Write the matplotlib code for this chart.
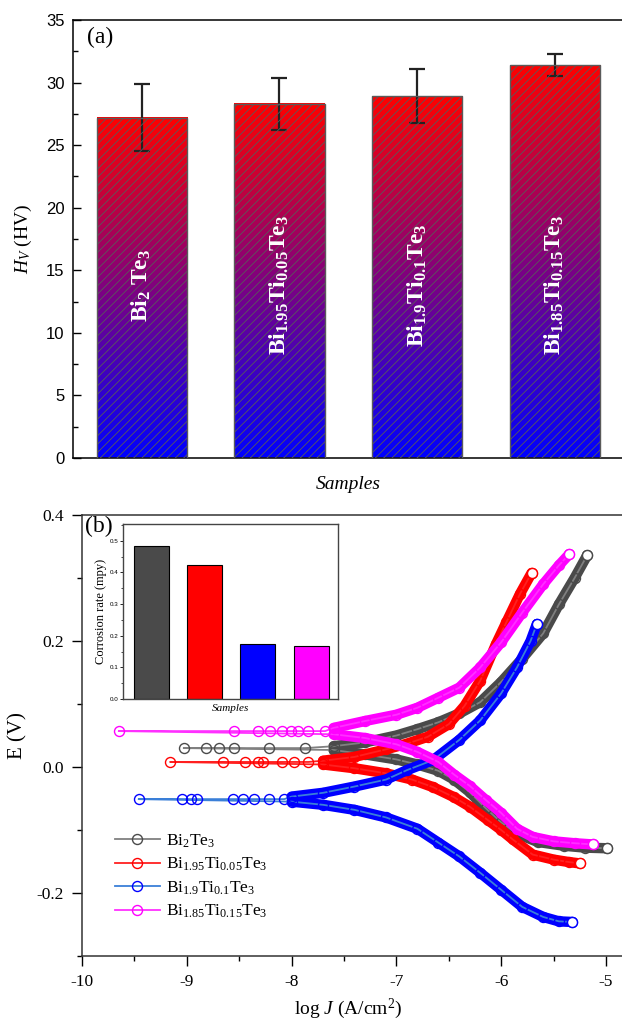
import numpy as np
import matplotlib.pyplot as plt
from matplotlib.colors import LinearSegmentedColormap
from matplotlib.ticker import MultipleLocator, FormatStrFormatter

plt.rcParams.update({
    "font.family": "serif",
    "font.serif": ["Liberation Serif", "DejaVu Serif"],
    "font.sans-serif": ["Liberation Sans", "DejaVu Sans"],
    "mathtext.fontset": "custom",
    "mathtext.rm": "Liberation Serif",
    "mathtext.it": "Liberation Serif:italic",
    "mathtext.bf": "Liberation Serif:bold",
    "axes.unicode_minus": False,
    "hatch.linewidth": 0.6,
})

# ---- panel (a): Vickers hardness ----
bar_labels = [r"$\mathbf{Bi_{2}\ Te_{3}}$",
              r"$\mathbf{Bi_{1.95}Ti_{0.05}Te_{3}}$",
              r"$\mathbf{Bi_{1.9}Ti_{0.1}Te_{3}}$",
              r"$\mathbf{Bi_{1.85}Ti_{0.15}Te_{3}}$"]
hv = [27.2, 28.3, 28.9, 31.4]
hv_err = [2.7, 2.1, 2.15, 0.85]

# ---- inset: corrosion rate (mpy) ----
corr_rate = [0.484, 0.423, 0.174, 0.169]

# ---- panel (b): Tafel curves, (log J, E) ----
legend_labels = [r"Bi$_{2}$Te$_{3}$",
                 r"Bi$_{1.95}$Ti$_{0.05}$Te$_{3}$",
                 r"Bi$_{1.9}$Ti$_{0.1}$Te$_{3}$",
                 r"Bi$_{1.85}$Ti$_{0.15}$Te$_{3}$"]

bt_cath = [(-4.99, -0.129), (-5.2, -0.128), (-5.4, -0.125), (-5.65, -0.119), (-5.85, -0.106),
           (-6.0, -0.088), (-6.15, -0.065), (-6.3, -0.040), (-6.45, -0.020), (-6.6, -0.006),
           (-6.8, 0.004), (-7.0, 0.012), (-7.3, 0.020), (-7.6, 0.027)]
bt_flat = [(-7.87, 0.030), (-8.22, 0.030), (-8.55, 0.030), (-8.69, 0.030), (-8.82, 0.030), (-9.03, 0.030)]
bt_anod = [(-7.6, 0.033), (-7.3, 0.039), (-7.0, 0.050), (-6.8, 0.060), (-6.6, 0.071), (-6.4, 0.085),
           (-6.2, 0.103), (-6.0, 0.135), (-5.8, 0.172), (-5.6, 0.212), (-5.45, 0.258), (-5.3, 0.300),
           (-5.18, 0.336)]

rd_cath = [(-5.25, -0.153), (-5.35, -0.151), (-5.5, -0.147), (-5.7, -0.139), (-5.89, -0.115),
           (-6.0, -0.100), (-6.13, -0.084), (-6.3, -0.063), (-6.45, -0.048), (-6.65, -0.032),
           (-6.85, -0.020), (-7.1, -0.010), (-7.4, -0.002), (-7.7, 0.004)]
rd_flat = [(-7.84, 0.008), (-7.98, 0.008), (-8.09, 0.008), (-8.27, 0.008), (-8.32, 0.008),
           (-8.44, 0.008), (-8.65, 0.008), (-9.16, 0.008)]
rd_anod = [(-7.7, 0.010), (-7.4, 0.016), (-7.1, 0.028), (-6.9, 0.037), (-6.7, 0.048), (-6.5, 0.068),
           (-6.35, 0.097), (-6.2, 0.137), (-6.05, 0.195), (-5.95, 0.230), (-5.82, 0.275), (-5.71, 0.308)]

bl_cath = [(-5.32, -0.246), (-5.45, -0.245), (-5.6, -0.238), (-5.8, -0.222), (-6.0, -0.195),
           (-6.2, -0.168), (-6.4, -0.142), (-6.6, -0.120), (-6.8, -0.098), (-7.1, -0.080),
           (-7.4, -0.068), (-7.7, -0.060), (-8.0, -0.055)]
bl_flat = [(-8.07, -0.051), (-8.22, -0.051), (-8.36, -0.051), (-8.46, -0.051), (-8.56, -0.051),
           (-8.90, -0.051), (-8.96, -0.051), (-9.05, -0.051), (-9.46, -0.051)]
bl_anod = [(-8.0, -0.047), (-7.7, -0.041), (-7.4, -0.031), (-7.1, -0.020), (-6.9, -0.005),
           (-6.65, 0.011), (-6.4, 0.043), (-6.2, 0.074), (-6.0, 0.117), (-5.85, 0.158),
           (-5.72, 0.200), (-5.66, 0.227)]

mg_cath = [(-5.12, -0.123), (-5.3, -0.121), (-5.5, -0.118), (-5.7, -0.111), (-5.85, -0.098),
           (-6.0, -0.073), (-6.15, -0.052), (-6.3, -0.030), (-6.45, -0.012), (-6.6, 0.008),
           (-6.8, 0.024), (-7.0, 0.036), (-7.3, 0.046), (-7.6, 0.052)]
mg_flat = [(-7.68, 0.057), (-7.84, 0.057), (-7.94, 0.057), (-8.01, 0.057), (-8.09, 0.057),
           (-8.21, 0.057), (-8.32, 0.057), (-8.55, 0.057), (-9.65, 0.057)]
mg_anod = [(-7.6, 0.062), (-7.3, 0.073), (-7.0, 0.083), (-6.8, 0.094), (-6.6, 0.110), (-6.4, 0.126),
           (-6.2, 0.158), (-6.0, 0.198), (-5.8, 0.245), (-5.6, 0.290), (-5.45, 0.320), (-5.35, 0.338)]

marker_colors = ["#4a4a4a", "#ff0000", "#0000ff", "#ff00ff"]
line_colors = ["#808080", "#ff2020", "#3a7fd8", "#ff30ff"]

W, H = 622, 1028
fig = plt.figure(figsize=(W / 100, H / 100), dpi=100)


def px_axes(x0, y0, x1, y1):
    return fig.add_axes([x0 / W, 1 - y1 / H, (x1 - x0) / W, (y1 - y0) / H])


# ================= (a) =================
axa = px_axes(73, 20, 623.5, 458)
x = np.arange(1, len(hv) + 1)
bw = 0.655
grad = np.linspace(0, 1, 256).reshape(-1, 1)
rb = LinearSegmentedColormap.from_list("rb", ["#0000ff", "#ff0000"])
for xi, h in zip(x, hv):
    axa.imshow(grad, extent=(xi - bw / 2, xi + bw / 2, 0, h), origin="lower",
               cmap=rb, aspect="auto", zorder=1)
axa.errorbar(x, hv, yerr=hv_err, fmt="none", ecolor="#222222", elinewidth=1.6,
             capsize=5.5, capthick=1.6, zorder=2)
axa.bar(x, hv, width=bw, facecolor="none", edgecolor="#5a5a5a", hatch="////",
        linewidth=1.0, zorder=3)
for xi, lab in zip(x, bar_labels):
    axa.text(xi, 13.8, lab, rotation=90, ha="center", va="center",
             color="white", fontsize=17, zorder=4)

axa.set_xlim(0.5, 4.5)
axa.set_ylim(0, 35)
axa.set_xticks([])
axa.yaxis.set_major_locator(MultipleLocator(5))
axa.yaxis.set_minor_locator(MultipleLocator(2.5))
axa.tick_params(axis="y", which="major", direction="in", length=6, width=1,
                labelsize=12, labelfontfamily="sans-serif", pad=6)
axa.tick_params(axis="y", which="minor", direction="in", length=3.5, width=1)
for s in axa.spines.values():
    s.set_linewidth(1.1)
axa.set_ylabel(r"$H_V$ (HV)", fontsize=14)
axa.yaxis.set_label_coords(-0.07, 0.5)
axa.set_xlabel("Samples", fontsize=14, style="italic")
axa.xaxis.set_label_coords(0.5, -0.04)
axa.text(0.025, 0.985, "(a)", transform=axa.transAxes, fontsize=17, va="top", ha="left")

# ================= (b) =================
axb = px_axes(82, 515, 625, 956)
curves = [(bt_cath, bt_flat, bt_anod), (rd_cath, rd_flat, rd_anod),
          (bl_cath, bl_flat, bl_anod), (mg_cath, mg_flat, mg_anod)]
handles = []
for i, (cath, flat, anod) in enumerate(curves):
    mc, lc = marker_colors[i], line_colors[i]
    z = 2 + i
    for branch in (cath, anod):
        bj, be = zip(*branch)
        axb.plot(bj, be, color=mc, lw=7.5, solid_capstyle="round", zorder=z)
    seq = cath + flat[::-1] + anod
    sj, se = zip(*seq)
    h, = axb.plot(sj, se, color=lc, lw=1.3, marker="o", ms=7.2, mfc="none",
                  mec=mc, mew=1.0, zorder=z, label=legend_labels[i])
    handles.append(h)
    for tip in (cath[0], anod[-1]):
        axb.plot([tip[0]], [tip[1]], marker="o", ms=7.2, mfc="white", mec=mc,
                 mew=1.0, ls="none", zorder=z)

axb.set_xlim(-10, -4.819)
axb.set_ylim(-0.3, 0.4)
axb.xaxis.set_major_locator(MultipleLocator(1))
axb.xaxis.set_minor_locator(MultipleLocator(0.5))
axb.yaxis.set_major_locator(MultipleLocator(0.2))
axb.yaxis.set_minor_locator(MultipleLocator(0.1))
axb.yaxis.set_major_formatter(FormatStrFormatter("%.1f"))
axb.tick_params(which="major", direction="out", length=7, width=1, labelsize=12.5, pad=6)
axb.tick_params(which="minor", direction="out", length=3.5, width=1)
for s in axb.spines.values():
    s.set_linewidth(1.1)
    s.set_color("#333333")
axb.set_xlabel(r"log $J$ (A/cm$^{2}$)", fontsize=14)
axb.xaxis.set_label_coords(0.49, -0.093)
axb.set_ylabel("E (V)", fontsize=15)
axb.yaxis.set_label_coords(-0.1, 0.5)
axb.text(0.006, 0.997, "(b)", transform=axb.transAxes, fontsize=17, va="top", ha="left")
axb.legend(handles=handles, loc="upper left", bbox_to_anchor=(0.06, 0.28),
           frameon=False, fontsize=12.5, handlelength=2.6, handletextpad=0.35,
           labelspacing=0.35, borderpad=0, borderaxespad=0)

# ================= inset =================
axi = px_axes(123.3, 524, 337.7, 699)
axi.bar(x, corr_rate, width=0.66, color=marker_colors, edgecolor="black", linewidth=0.8)
axi.set_xlim(0.47, 4.5)
axi.set_ylim(0, 0.553)
axi.set_xticks([])
axi.yaxis.set_major_locator(MultipleLocator(0.1))
axi.yaxis.set_minor_locator(MultipleLocator(0.05))
axi.yaxis.set_major_formatter(FormatStrFormatter("%.1f"))
axi.tick_params(axis="y", which="major", direction="out", length=2, width=0.6,
                labelsize=4.5, labelfontfamily="sans-serif", pad=1.5)
axi.tick_params(axis="y", which="minor", direction="out", length=1.2, width=0.5)
for s in axi.spines.values():
    s.set_linewidth(1.0)
    s.set_color("#444444")
axi.set_ylabel("Corrosion rate (mpy)", fontsize=9)
axi.yaxis.set_label_coords(-0.075, 0.5)
axi.set_xlabel("Samples", fontsize=8, style="italic")
axi.xaxis.set_label_coords(0.5, -0.03)

fig.savefig("out.png", dpi=100, facecolor="white")
